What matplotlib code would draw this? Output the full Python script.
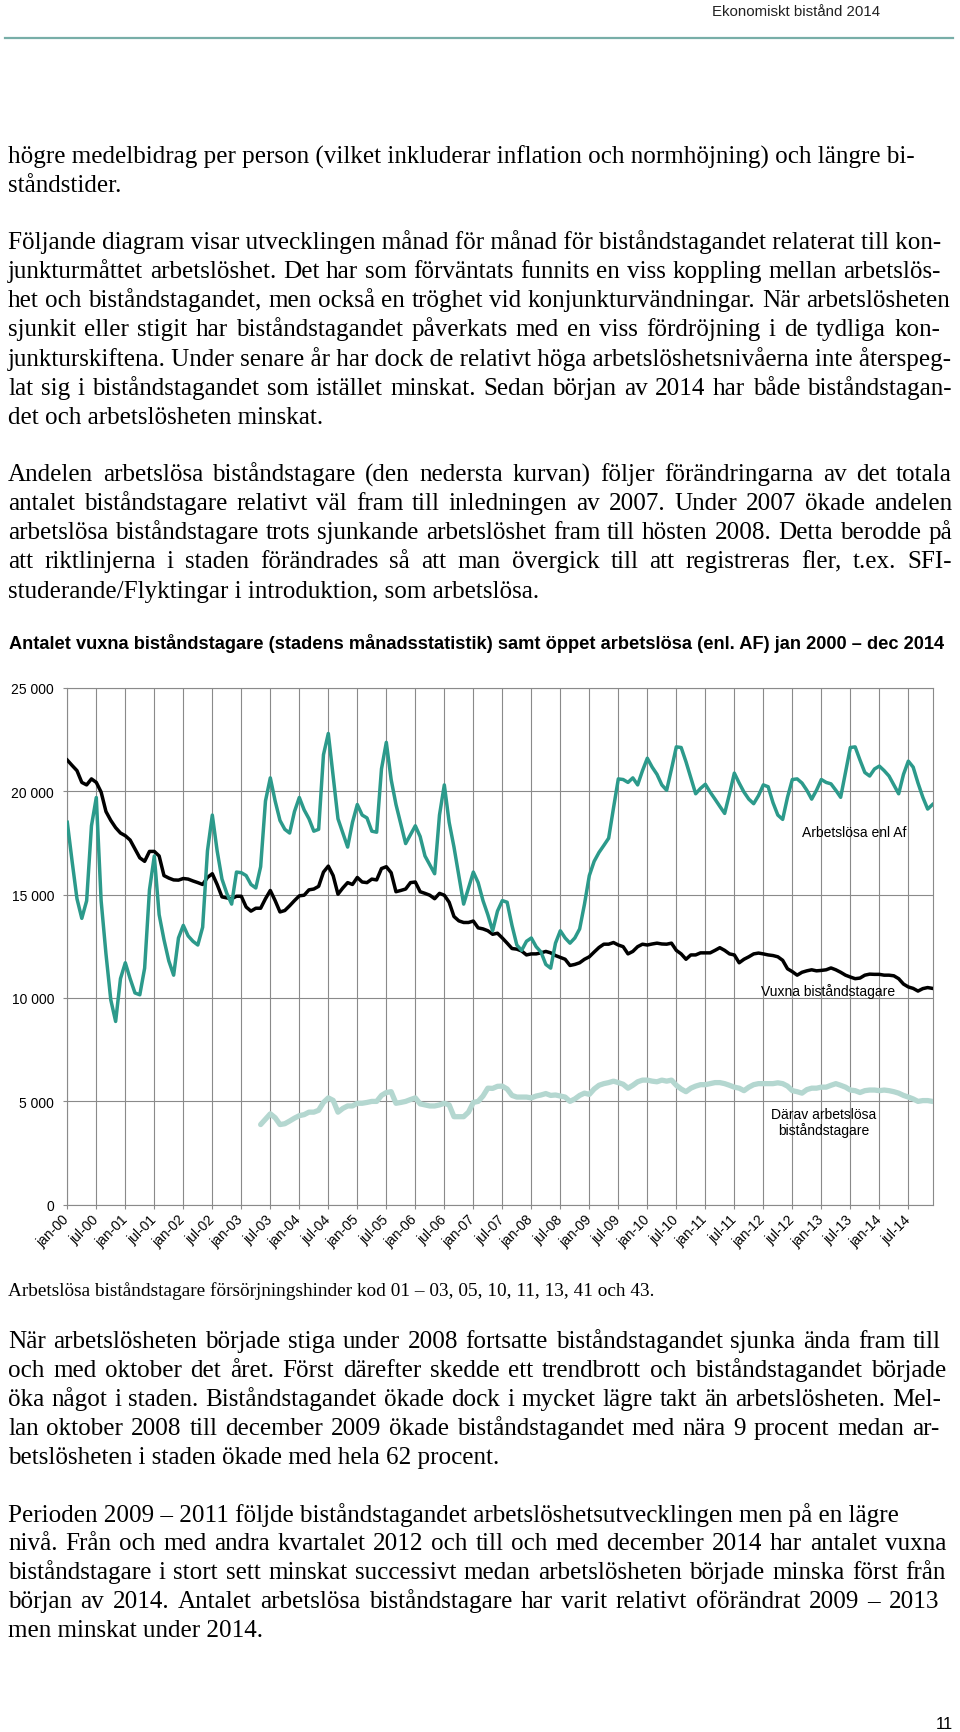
import matplotlib
matplotlib.use('Agg')
import matplotlib.pyplot as plt
import numpy as np
from matplotlib.font_manager import FontProperties
from matplotlib.ticker import FuncFormatter
try:
    from matplotlib.backends.backend_agg import get_hinting_flag
except Exception:
    get_hinting_flag = None

# ---------------- data ----------------
month_labels = []
for yy in range(0, 15):
    month_labels += [f"jan-{yy:02d}", f"jul-{yy:02d}"]

arbetslosa_af = [
    18500, 16600, 14800, 13850, 14700, 18330, 19700, 14700, 12130, 9900, 8860, 10930,
    11700, 10930, 10240, 10150, 11440, 15230, 16870, 14030, 12820, 11790, 11100, 12900,
    13510, 13000, 12740, 12560, 13420, 17120, 18850, 17120, 15750, 15060, 14540, 16090,
    16060, 15920, 15490, 15320, 16350, 19530, 20650, 19530, 18590, 18160, 17980, 19020,
    19700, 19100, 18670, 18070, 18160, 21770, 22800, 20740, 18670, 17980, 17300, 18500,
    19360, 18850, 18710, 18070, 18020, 21080, 22370, 20570, 19360, 18420, 17470, 17900,
    18330, 17810, 16870, 16440, 16010, 18850, 20310, 18500, 17300, 15920, 14540, 15320,
    16090, 15580, 14710, 14030, 13250, 14200, 14710, 14630, 13510, 12560, 12300, 12740,
    12900, 12480, 12220, 11620, 11440, 12650, 13250, 12900, 12650, 12900, 13340, 14540,
    15920, 16610, 17040, 17380, 17730, 19190, 20600, 20570, 20430, 20650, 20310, 21000,
    21600, 21170, 20820, 20310, 20050, 21080, 22150, 22120, 21430, 20650, 19880, 20140,
    20340, 19960, 19620, 19270, 18930, 19880, 20880, 20400, 19960, 19620, 19400, 19790,
    20310, 20220, 19450, 18850, 18640, 19710, 20570, 20600, 20400, 20050, 19620, 20050,
    20570, 20430, 20360, 20050, 19710, 20910, 22120, 22150, 21510, 20910, 20740, 21080,
    21220, 21000, 20740, 20310, 19880, 20820, 21460, 21170, 20400, 19710, 19140, 19360,
]

vuxna = [
    21510, 21250, 21000, 20430, 20310, 20600, 20430, 19960, 19020, 18590, 18240, 17980,
    17850, 17640, 17210, 16780, 16610, 17090, 17090, 16870, 15920, 15800, 15710, 15700,
    15780, 15750, 15660, 15580, 15490, 15830, 16010, 15490, 14890, 14840, 14800, 14920,
    14920, 14400, 14200, 14340, 14340, 14800, 15200, 14710, 14160, 14230, 14460, 14710,
    14940, 14970, 15230, 15270, 15400, 16090, 16380, 15920, 15020, 15320, 15580, 15490,
    15830, 15610, 15580, 15750, 15710, 16260, 16350, 16060, 15140, 15200, 15270, 15580,
    15610, 15140, 15060, 14970, 14800, 15060, 14970, 14630, 13940, 13730, 13650, 13650,
    13720, 13390, 13340, 13250, 13080, 13130, 12900, 12650, 12390, 12360, 12270, 12080,
    12130, 12130, 12180, 12250, 12180, 12050, 11960, 11870, 11570, 11620, 11700, 11870,
    11990, 12220, 12440, 12600, 12600, 12680, 12560, 12480, 12130, 12250, 12480, 12600,
    12560, 12610, 12650, 12610, 12600, 12650, 12300, 12130, 11870, 12080, 12080, 12180,
    12180, 12180, 12300, 12430, 12300, 12130, 12080, 11700, 11870, 11990, 12130, 12170,
    12130, 12080, 12050, 11990, 11820, 11410, 11270, 11100, 11240, 11310, 11360, 11310,
    11330, 11360, 11450, 11360, 11240, 11100, 11010, 10930, 10960, 11100, 11150, 11140,
    11140, 11100, 11100, 11070, 10930, 10670, 10530, 10460, 10330, 10450, 10500, 10460,
]

# "Därav arbetslösa biståndstagare" starts May 2003 (month index 40)
darav_start = 40
darav = [
    3870, 4130, 4390, 4200, 3870, 3910, 4040, 4180,
    4300, 4350, 4470, 4470, 4560, 4940, 5160, 5040, 4470, 4650, 4770, 4770,
    4900, 4900, 4940, 4990, 4990, 5280, 5420, 5460, 4900, 4940, 4990, 5080,
    5160, 4870, 4820, 4770, 4770, 4820, 4900, 4820, 4250, 4250, 4250, 4470,
    4940, 4990, 5250, 5630, 5620, 5720, 5730, 5590, 5280, 5200, 5200, 5200,
    5160, 5250, 5300, 5370, 5280, 5300, 5250, 5200, 4990, 5110, 5280, 5390,
    5330, 5590, 5770, 5850, 5900, 5970, 5900, 5820, 5630, 5770, 5940, 6020,
    6020, 5970, 5940, 6020, 5970, 6020, 5770, 5590, 5460, 5630, 5730, 5800,
    5800, 5850, 5900, 5900, 5850, 5770, 5680, 5630, 5510, 5680, 5800, 5850,
    5850, 5850, 5850, 5890, 5850, 5730, 5510, 5460, 5390, 5560, 5630, 5630,
    5680, 5680, 5770, 5850, 5770, 5680, 5540, 5510, 5420, 5510, 5540, 5540,
    5510, 5540, 5510, 5460, 5390, 5280, 5200, 5110, 4990, 5030, 5030, 4990,
]

series_labels = ["Arbetslösa enl Af", "Vuxna biståndstagare", "Därav arbetslösa\nbiståndstagare"]
y_ticks = [0, 5000, 10000, 15000, 20000, 25000]

header_text = "Ekonomiskt bistånd 2014"
chart_title = ("Antalet vuxna biståndstagare (stadens månadsstatistik) samt öppet "
               "arbetslösa (enl. AF) jan 2000 – dec 2014")
caption = "Arbetslösa biståndstagare försörjningshinder kod 01 – 03, 05, 10, 11, 13, 41 och 43."
page_no = "11"

P1 = ["högre medelbidrag per person (vilket inkluderar inflation och normhöjning) och längre bi-",
      "ståndstider."]
P2 = ["Följande diagram visar utvecklingen månad för månad för biståndstagandet relaterat till kon-",
      "junkturmåttet arbetslöshet. Det har som förväntats funnits en viss koppling mellan arbetslös-",
      "het och biståndstagandet, men också en tröghet vid konjunkturvändningar. När arbetslösheten",
      "sjunkit eller stigit har biståndstagandet påverkats med en viss fördröjning i de tydliga kon-",
      "junkturskiftena. Under senare år har dock de relativt höga arbetslöshetsnivåerna inte återspeg-",
      "lat sig i biståndstagandet som istället minskat. Sedan början av 2014 har både biståndstagan-",
      "det och arbetslösheten minskat."]
P3 = ["Andelen arbetslösa biståndstagare (den nedersta kurvan) följer förändringarna av det totala",
      "antalet biståndstagare relativt väl fram till inledningen av 2007. Under 2007 ökade andelen",
      "arbetslösa biståndstagare trots sjunkande arbetslöshet fram till hösten 2008. Detta berodde på",
      "att riktlinjerna i staden förändrades så att man övergick till att registreras fler, t.ex. SFI-",
      "studerande/Flyktingar i introduktion, som arbetslösa."]
P4 = ["När arbetslösheten började stiga under 2008 fortsatte biståndstagandet sjunka ända fram till",
      "och med oktober det året. Först därefter skedde ett trendbrott och biståndstagandet började",
      "öka något i staden. Biståndstagandet ökade dock i mycket lägre takt än arbetslösheten. Mel-",
      "lan oktober 2008 till december 2009 ökade biståndstagandet med nära 9 procent medan ar-",
      "betslösheten i staden ökade med hela 62 procent."]
P5 = ["Perioden 2009 – 2011 följde biståndstagandet arbetslöshetsutvecklingen men på en lägre",
      "nivå. Från och med andra kvartalet 2012 och till och med december 2014 har antalet vuxna",
      "biståndstagare i stort sett minskat successivt medan arbetslösheten började minska först från",
      "början av 2014. Antalet arbetslösa biståndstagare har varit relativt oförändrat 2009 – 2013",
      "men minskat under 2014."]

# ---------------- layout ----------------
W, H, DPI = 960, 1733, 100
SERIF = 'Liberation Serif'
SANS = 'Liberation Sans'
TEAL = '#2c9a8b'
LIGHT = '#b4d7d0'
GRID = '#8a8a8a'

# right edge (px) of each line where the text is justified; None = natural width
P1_right = [None, None]
P2_right = [940, 941, 950, 940, 952, 952, None]
P3_right = [952, 952, 952, 952, None]
P4_right = [941, 946, 941, 939, None]
P5_right = [None, 946, 946, 939, None]

fig = plt.figure(figsize=(W / DPI, H / DPI), dpi=DPI)
fig.patch.set_facecolor('white')
renderer = fig.canvas.get_renderer()


def fx(x):
    return x / W


def fy(y):
    return 1 - y / H


def text_width(s, size, family, weight='normal'):
    fp = FontProperties(family=family, size=size, weight=weight)
    w, h, d = renderer.get_text_width_height_descent(s, fp, ismath=False)
    return w


def fit_size(s, target, family, weight='normal'):
    return 10.0 * target / text_width(s, 10.0, family, weight)


def baseline_shift(s, fp, T):
    """Integer pixel offset Agg's bitmap placement gives this string's baseline."""
    if get_hinting_flag is None:
        return 0
    try:
        font = renderer._prepare_font(fp)
        font.set_text(s, 0, flags=get_hinting_flag())
        wsub, hsub = font.get_width_height()
        desc = font.get_descent()
        ymax = hsub - desc
        rendered = round(T + desc / 64.0) - (hsub // 64) + (ymax // 64)
        e = rendered - T
        if abs(e) > 2:
            return 0
        return e
    except Exception:
        return 0


LEFT = 8
body_size = fit_size(P1[0], 907, SERIF)
BODY_FP = FontProperties(family=SERIF, size=body_size)


def word_text(x, T, s):
    e = baseline_shift(s, BODY_FP, T)
    fig.text(fx(x), fy(T - e), s, fontsize=body_size, family=SERIF,
             va='baseline', ha='left', color='black')


def put_line(line, yb, right):
    T = int(round(yb))
    words = line.split(' ')
    natural = text_width(line, body_size, SERIF)
    if right is None or len(words) < 2 or LEFT + natural >= right:
        word_text(LEFT, T, line)
        return
    widths = [text_width(w, body_size, SERIF) for w in words]
    gap = (right - LEFT - sum(widths)) / (len(words) - 1)
    x = LEFT
    for w, wd in zip(words, widths):
        word_text(x, T, w)
        x += wd + gap


def paragraph(lines, rights, y0, step):
    for k, (line, r) in enumerate(zip(lines, rights)):
        put_line(line, y0 + k * step, r)


# header
hs = fit_size(header_text, 168, SANS)
fig.text(fx(880), fy(16), header_text, fontsize=hs, family=SANS, ha='right',
         va='baseline', color='#222222')
fig.add_artist(plt.Line2D([fx(5), fx(953)], [fy(38.5), fy(38.5)], color='#78aea8', lw=1.6))

paragraph(P1, P1_right, 163.2, 29.3)
paragraph(P2, P2_right, 249.2, 29.1)
paragraph(P3, P3_right, 481.2, 29.1)

ts = fit_size(chart_title, 937, SANS, 'bold')
fig.text(fx(LEFT + 1), fy(648.7), chart_title, fontsize=ts, family=SANS, weight='bold',
         ha='left', va='baseline')

# chart
ax_l, ax_r, ax_t, ax_b = 67.3, 932.5, 689.0, 1205.5
ax = fig.add_axes([fx(ax_l), fy(ax_b), (ax_r - ax_l) / W, (ax_b - ax_t) / H])
n = len(arbetslosa_af)
x_all = np.arange(n)
x_d = np.arange(darav_start, darav_start + len(darav))
ax.plot(x_d, darav, color=LIGHT, lw=3.8, solid_joinstyle='round', solid_capstyle='round', zorder=3)
ax.plot(x_all, vuxna, color='black', lw=2.5, solid_joinstyle='round', zorder=4)
ax.plot(x_all, arbetslosa_af, color=TEAL, lw=2.5, solid_joinstyle='round', zorder=5)

ax.set_xlim(0, n - 1)
ax.set_ylim(0, 25000)
ax.set_xticks(np.arange(0, n, 6))
ax.set_xticklabels(month_labels, rotation=45, ha='right', va='center',
                   rotation_mode='anchor', fontsize=10, family=SANS)
ax.set_yticks(y_ticks)
ax.yaxis.set_major_formatter(FuncFormatter(lambda v, p: f"{int(v):,}".replace(",", " ")))
for lab in ax.get_yticklabels():
    lab.set_family(SANS)
    lab.set_fontsize(10)
ax.tick_params(axis='y', length=3, width=0.8, color=GRID, pad=6.5)
ax.tick_params(axis='x', length=3, width=0.8, color=GRID, pad=6)
ax.grid(True, color=GRID, lw=0.8)
ax.set_axisbelow(True)
for sp in ax.spines.values():
    sp.set_color(GRID)
    sp.set_linewidth(0.8)

label_pos = [(162.8, 18030), (157.3, 10334), (156.5, 3993)]
for (lx, ly), txt in zip(label_pos, series_labels):
    ax.text(lx, ly, txt, fontsize=10, family=SANS, ha='center', va='center',
            linespacing=1.1, zorder=6)

cs = fit_size(caption, 645, SERIF)
fig.text(fx(LEFT), fy(1296), caption, fontsize=cs, family=SERIF, ha='left', va='baseline')

paragraph(P4, P4_right, 1348.2, 29.0)
paragraph(P5, P5_right, 1521.7, 28.8)

fig.text(fx(953), fy(1729), page_no, fontsize=12, family=SANS, ha='right', va='baseline')

fig.savefig('out.png', dpi=DPI)
